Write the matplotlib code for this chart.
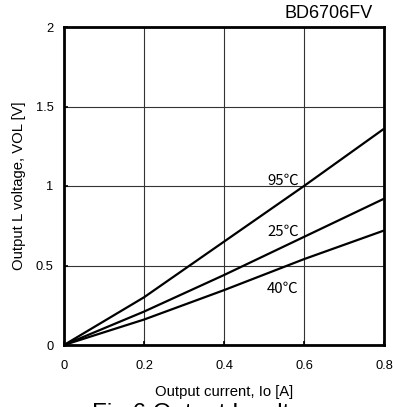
import matplotlib.pyplot as plt

plt.rcParams['font.family'] = ['Liberation Sans', 'DejaVu Sans']

# data
current = [0.0, 0.2, 0.4, 0.6, 0.8]
vol_95 = [0.0, 0.30, 0.65, 1.00, 1.36]
vol_25 = [0.0, 0.21, 0.44, 0.68, 0.92]
vol_40 = [0.0, 0.16, 0.345, 0.54, 0.72]
x_ticks = [0, 0.2, 0.4, 0.6, 0.8]
x_labels = ['0', '0.2', '0.4', '0.6', '0.8']
y_ticks = [0, 0.5, 1, 1.5, 2]
y_labels = ['0', '0.5', '1', '1.5', '2']

fig = plt.figure(figsize=(3.93, 4.07), dpi=100)
ax = fig.add_axes([64 / 393, 1 - 345 / 407, 320 / 393, 318 / 407])

for v in [vol_95, vol_25, vol_40]:
    ax.plot(current, v, color='black', linewidth=1.6, solid_capstyle='butt')

# temperature labels
temp_font = ['Noto Sans CJK JP', 'Liberation Sans']
ax.text(0.587, 1.03, '95℃', ha='right', va='center', fontsize=10.8, family=temp_font)
ax.text(0.587, 0.71, '25℃', ha='right', va='center', fontsize=10.8, family=temp_font)
ax.text(0.587, 0.35, '40℃', ha='right', va='center', fontsize=10.8, family=temp_font)

ax.set_xlim(0, 0.8)
ax.set_ylim(0, 2)
ax.set_xticks(x_ticks)
ax.set_xticklabels(x_labels)
ax.set_yticks(y_ticks)
ax.set_yticklabels(y_labels)
ax.tick_params(direction='in', length=3, width=1.2, labelsize=9.3)
ax.tick_params(axis='x', pad=11)
ax.tick_params(axis='y', pad=7.5)
ax.grid(True, color='#333333', linewidth=0.8)
for s in ax.spines.values():
    s.set_linewidth(2)

ax.set_xlabel('Output current, Io [A]', fontsize=10.7)
ax.set_ylabel('Output L voltage, VOL [V]', fontsize=10.7)
ax.xaxis.set_label_coords(0.5, -0.148)
ax.xaxis.label.set_va('center')
ax.yaxis.set_label_coords(-0.14, 0.5)
ax.yaxis.label.set_va('center')

fig.text(373 / 393, 1 - 13 / 407, 'BD6706FV', ha='right', va='center', fontsize=13)
fig.text(92 / 393, 1 - 420 / 407, 'Fig.6 Output L voltage', ha='left', va='baseline', fontsize=17.5)

fig.savefig('out.png', dpi=100)
